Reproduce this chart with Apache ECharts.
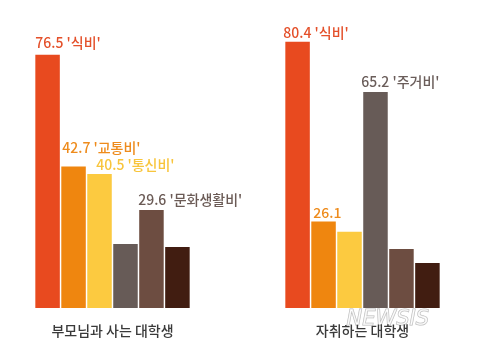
<!DOCTYPE html>
<html><head><meta charset="utf-8">
<script src="https://cdn.jsdelivr.net/npm/echarts@6/dist/echarts.min.js"></script>
<style>html,body{margin:0;padding:0;background:#fff}#c{width:488px;height:357px}</style>
</head><body><div id="c"></div>
<script>
const groups = ['부모님과 사는 대학생', '자취하는 대학생'];
const itemNames = ['식비', '교통비', '통신비', '주거비', '문화생활비', '기타'];
const colors = ['#E84A1F', '#EF860F', '#FCCA40', '#675B57', '#6D4D41', '#411D11'];
const labelColors = ['#E4502A', '#EE8B1C', '#F8C53C', '#6A5D5A', '#6B5B56', '#411D11'];
const withParents = [76.5, 42.7, 40.5, 19.3, 29.6, 18.4];
const livingAlone = [80.4, 26.1, 23.0, 65.2, 17.8, 13.6];
const labelsParents = ["76.5 '식비'", "42.7 '교통비'", "40.5 '통신비'", null, "29.6 '문화생활비'", null];
const labelsAlone = ["80.4 '식비'", "26.1", null, "65.2 '주거비'", null, null];
const offParents = [[0,-12],[1,-19],[9,-9],null,[-1,-10],null];
const offAlone = [[-2,-9],[2,-9],null,[-2,-10],null,null];

const chart = echarts.init(document.getElementById('c'));
function mkItem(v, text, off, col) {
  const it = { value: v };
  if (text) {
    it.label = { show: true, formatter: text, position: off, align: 'left', verticalAlign: 'middle',
      color: col, fontSize: 14, fontWeight: 500, fontFamily: '"Noto Sans CJK KR", "Noto Sans", sans-serif' };
  }
  return it;
}
const series = itemNames.map((n, i) => ({
  name: n, type: 'bar', barWidth: 24.5, barGap: '6%',
  itemStyle: { color: colors[i] },
  label: { show: false },
  data: [mkItem(withParents[i], labelsParents[i], offParents[i], labelColors[i]),
         mkItem(livingAlone[i], labelsAlone[i], offAlone[i], labelColors[i])]
}));
chart.setOption({
  animation: false,
  grid: { left: -12.5, right: 0.5, top: 10, bottom: 49, outerBoundsMode: 'none', containLabel: false },
  xAxis: { type: 'category', data: groups, axisLine: { show: false }, axisTick: { show: false },
    axisLabel: { margin: 16, fontSize: 14, color: '#3a3a3a', fontWeight: 500,
      fontFamily: '"Noto Sans CJK KR", sans-serif' } },
  yAxis: { type: 'value', min: 0, max: 90, show: false, splitLine: { show: false } },
  series: series,
  graphic: [{ type: 'text', left: 346, top: 309, silent: true,
    style: { text: 'NEWSIS', fontSize: 21, fontStyle: 'italic', fontFamily: 'DejaVu Sans',
      fill: 'rgba(255,255,255,0.6)', stroke: '#b8b8b8', lineWidth: 1 } }]
});
</script></body></html>
